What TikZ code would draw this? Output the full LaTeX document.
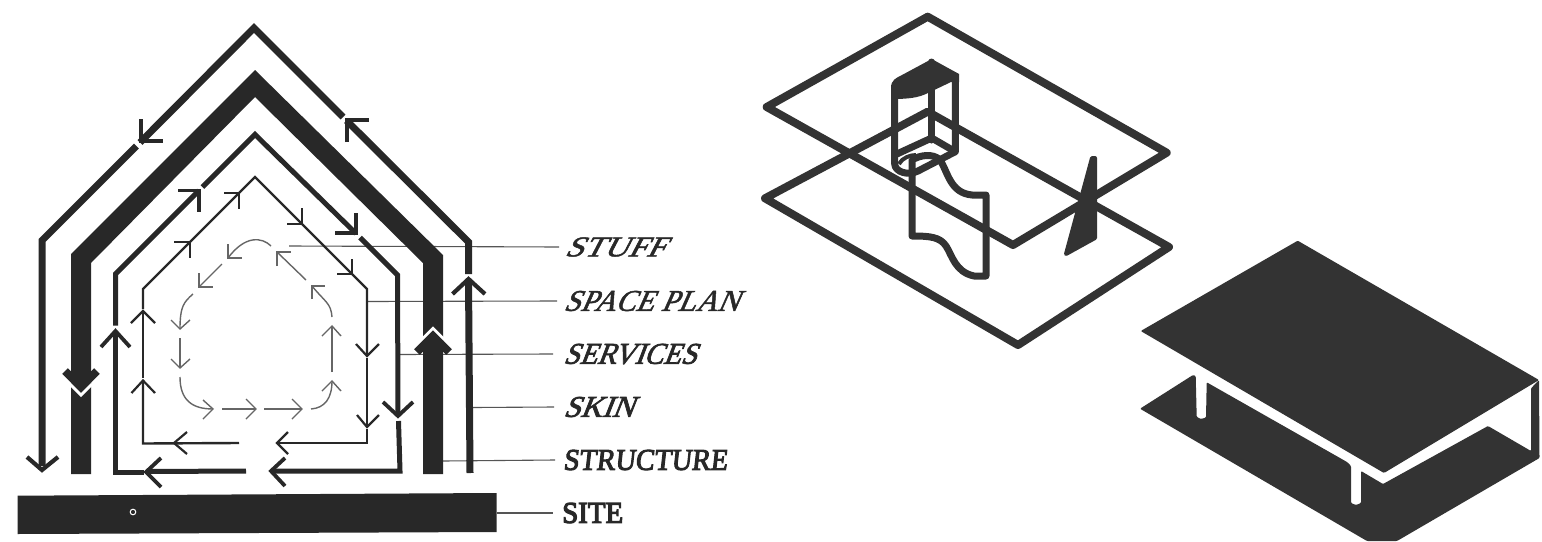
\documentclass[tikz,border=0pt]{standalone}
\usepackage{fontspec}
\usepackage{graphicx}
\newfontfamily\lblit[FakeSlant=0.45,FakeBold=1.6]{Liberation Serif}
\newfontfamily\lblsv[FakeSlant=0.4,FakeBold=2.4]{Liberation Serif}
\newfontfamily\lblbf[FakeSlant=0.12,FakeBold=3.5]{Liberation Serif}
\newfontfamily\lblup[FakeBold=4]{Liberation Serif}
\definecolor{ink}{HTML}{282828}
\definecolor{iso}{HTML}{333333}
\definecolor{stuffgray}{HTML}{666666}
\definecolor{leader}{HTML}{555555}
\tikzset{
  skinline/.style={draw=ink,line width=7pt,line join=miter},
  structbar/.style={fill=ink,draw=none},
  servline/.style={draw=ink,line width=5pt,line join=miter},
  skinhead/.style={draw=ink,line width=4.2pt,line join=miter},
  servhead/.style={draw=ink,line width=3.8pt,line join=miter},
  planline/.style={draw=ink,line width=2.4pt,line join=miter},
  planhead/.style={draw=ink,line width=2.2pt,line join=miter},
  stuffline/.style={draw=stuffgray,line width=1.4pt},
  leaderline/.style={draw=leader,line width=1.1pt},
  lbl/.style={anchor=west,inner sep=0pt,text=ink},
  isoline/.style={draw=iso,line width=8pt,line join=round,line cap=round},
  colline/.style={draw=iso,line width=7pt,line join=round,line cap=round},
  isofill/.style={fill=iso,draw=iso,line width=1pt,line join=round},
}
\newcommand{\fit}[3]{\resizebox{#1pt}{#2pt}{#3}}
\begin{document}
\begin{tikzpicture}[x=1pt,y=-1pt]
\useasboundingbox (0,0) rectangle (1542,541);
\fill[white] (0,0) rectangle (1542,541);

% leaders
\coordinate (lstuff) at (289,246);
\coordinate (lplan) at (368,301.5);
\coordinate (lserv) at (399,354.5);
\coordinate (lskin) at (473,407.5);
\coordinate (lstruct) at (443,461);
\coordinate (lsite) at (497,513);
\node[lbl] (tstuff) at (564,247) {\fit{100}{19}{\lblit STUFF}};
\node[lbl] (tplan) at (563,301) {\fit{175}{20}{\lblit SPACE PLAN}};
\node[lbl] (tserv) at (563,354) {\fit{133}{20}{\lblsv SERVICES}};
\node[lbl] (tskin) at (563,407) {\fit{70}{20}{\lblsv SKIN}};
\node[lbl] (tstruct) at (563,460) {\fit{164}{20}{\lblbf STRUCTURE}};
\node[lbl] (tsite) at (562,513) {\fit{61}{20}{\lblup SITE}};
\draw[leaderline] (lstuff) -- ([xshift=-5pt]tstuff.west);
\draw[leaderline] (lplan) -- ([xshift=-6pt]tplan.west);
\draw[leaderline] (lserv) -- ([xshift=-10pt]tserv.west);
\draw[leaderline] (lskin) -- ([xshift=-9pt]tskin.west);
\draw[leaderline] (lstruct) -- ([xshift=-8pt]tstruct.west);
\draw[leaderline] (lsite) -- ([xshift=-9pt]tsite.west);

% site
\fill[ink] (17.5,495.7) -- (496.5,493) -- (496.5,532) -- (17.5,534) -- cycle;
\draw[white,line width=1pt] (133,512) circle (2.8pt);

% skin
\draw[skinline] (42,466) -- (42,240.5) -- (136.5,146);
\draw[skinline] (140,142.5) -- (254,28) -- (343,117);
\draw[skinline] (346.5,120.5) -- (468.5,242) -- (468.5,274);
\draw[skinline] (468.5,279) -- (470,473);
\draw[skinhead] (27,457) -- (42,470) -- (58,457);
\draw[skinhead] (141,119) -- (141,141) -- (163,141);
\draw[skinhead] (347,142) -- (347,120) -- (369,120);
\draw[skinhead] (452.5,294) -- (468.5,279) -- (485,294);

% structure
\fill[structbar] (71,474) -- (71,254) -- (255,70) -- (443,255) -- (443,474) -- (423,474) -- (423,263) -- (255,97) -- (91,263) -- (91,474) -- cycle;
\draw[white,line width=3pt] (70,384) -- (81,395) -- (92,384);
\draw[ink,line width=8pt,line join=miter] (65,371) -- (81,387) -- (97,371);
\draw[white,line width=3pt] (422,339.5) -- (433,328.5) -- (444,339.5);
\draw[ink,line width=8pt,line join=miter] (417,352) -- (433,336) -- (449,352);

% services
\draw[servline] (144,472.5) -- (115.5,472.5) -- (115.5,331);
\draw[servline] (115.5,325.5) -- (115.5,274) -- (199,190.5);
\draw[servline] (202.5,187) -- (255,134.5) -- (356,233.5);
\draw[servline] (360,237.5) -- (397.5,275) -- (398,414);
\draw[servline] (398.5,421) -- (400,471) -- (272,471);
\draw[servline] (148,471.5) -- (246,471);
\draw[servhead] (101,347) -- (115.5,331) -- (130,347);
\draw[servhead] (178,190.5) -- (199,190.5) -- (199,212);
\draw[servhead] (335,233) -- (356,233) -- (356,213);
\draw[servhead] (383,402) -- (398,416) -- (413,402);
\draw[ink,line width=3.8pt] (161,458) -- (146,472) -- (161,487);
\draw[ink,line width=3.8pt] (285,458) -- (271,471) -- (285,486);

% space plan
\draw[planline] (239,443) -- (143,443.5) -- (143,380);
\draw[planline] (143,378) -- (143,312);
\draw[planline] (143,309) -- (143,289) -- (255,177) -- (367,289) -- (367,355);
\draw[planline] (367,358) -- (367,426);
\draw[planline] (367,429) -- (367,443) -- (277,443);
\draw[planhead] (131.5,393) -- (143,380.5) -- (155,393);
\draw[planhead] (131,323) -- (143,311) -- (155,323);
\draw[planhead] (174,242) -- (190,242) -- (190,258);
\draw[planhead] (224,193) -- (239,193) -- (239,209);
\draw[planhead] (287,224) -- (302,224) -- (302,208);
\draw[planhead] (337,274) -- (352,274) -- (352,259);
\draw[planhead] (356,344) -- (367,356) -- (379,344);
\draw[planhead] (357,415) -- (367,427) -- (379,415);
\draw[planhead] (187,432) -- (174,443) -- (187,454);
\draw[planhead] (288,432) -- (277,443) -- (288,454);

% stuff
\draw[stuffline] (271,246) .. controls (262,237) and (245,235) .. (228,258);
\draw[stuffline] (228,244) -- (228,258) -- (242,258);
\draw[stuffline] (222,264) -- (199,287);
\draw[stuffline] (199,273) -- (199,287) -- (213,287);
\draw[stuffline] (193,294) .. controls (184,302) and (180,306) .. (180,329);
\draw[stuffline] (171,320) -- (180,329) -- (190,320);
\draw[stuffline] (180,338) -- (180,368);
\draw[stuffline] (171,359) -- (180,368) -- (190,359);
\draw[stuffline] (180,377) .. controls (180,400) and (192,409) .. (213,409);
\draw[stuffline] (203,400) -- (213,409) -- (203,419);
\draw[stuffline] (222,409) -- (256,409);
\draw[stuffline] (246,399) -- (256,409) -- (246,419);
\draw[stuffline] (264,409) -- (302,409);
\draw[stuffline] (292,399) -- (302,409) -- (292,419);
\draw[stuffline] (311,409) .. controls (325,408) and (332,398) .. (332,381);
\draw[stuffline] (322,391) -- (332,381) -- (341,391);
\draw[stuffline] (332,372) -- (332,326);
\draw[stuffline] (322,336) -- (332,326) -- (341,336);
\draw[stuffline] (332,317) .. controls (331,303) and (325,302) .. (312,286);
\draw[stuffline] (312,299) -- (312,286) -- (325,286);
\draw[stuffline] (306,280) -- (277,252);
\draw[stuffline] (277,266) -- (277,252) -- (291,252);

% isometric: upper and lower planes
\draw[isoline] (927.7,16.7) -- (1166.7,152.7) -- (1013,245) -- (766.7,107) -- cycle;
\draw[isoline] (927.7,111.7) -- (1169,247) -- (1018,345) -- (765,198.3) -- cycle;

% column
\fill[iso] (891,88) .. controls (891,80) and (896,78) .. (902,75) -- (931.7,59) -- (959,74) -- (959,82) -- (951,82) -- (928,93) .. controls (918,98) and (908,99) .. (891,99) -- cycle;
\draw[colline] (894.7,90) -- (894.7,164) .. controls (895,172) and (908,176) .. (918,171) -- (955.3,151.7) -- (955.3,76);
\draw[colline] (931.7,62) -- (931.7,140);
\draw[colline] (894.7,155) -- (931.7,138) -- (955.3,151.7);
\draw[iso,line width=4pt] (899,164) .. controls (902,158) and (910,155) .. (916,155);

% wavy panel
\draw[colline] (912,236) -- (912,160) .. controls (920,155) and (933,153) .. (940,160) .. controls (948,172) and (950,193) .. (972,195) -- (986,195) -- (986,276) -- (974,276) .. controls (955,272) and (952,255) .. (946,246) .. controls (940,237) and (930,236) .. cycle;

% fin
\fill[isofill,line width=4pt] (1092,158) -- (1095,158) -- (1095,238) -- (1066,254) -- cycle;

% lower isometric block
\fill[iso,rounded corners=1pt] (1297.7,240.7) -- (1539,380) -- (1384,473) -- (1140.7,331) -- cycle;
\fill[iso,rounded corners=1pt] (1539,380) -- (1539.5,458) -- (1397,541) -- (1367,541) -- (1140,408.7) -- (1193,375) -- (1195.7,376) -- (1196.7,417) -- (1201,419) -- (1206,417.5) -- (1206.7,382.3) -- (1347,462) -- (1351,466) -- (1351,503) -- (1356,505) -- (1361,503) -- (1361,471) -- (1383,484) -- (1488,426) -- (1531,451) -- (1531,388.3) -- cycle;
\end{tikzpicture}
\end{document}
